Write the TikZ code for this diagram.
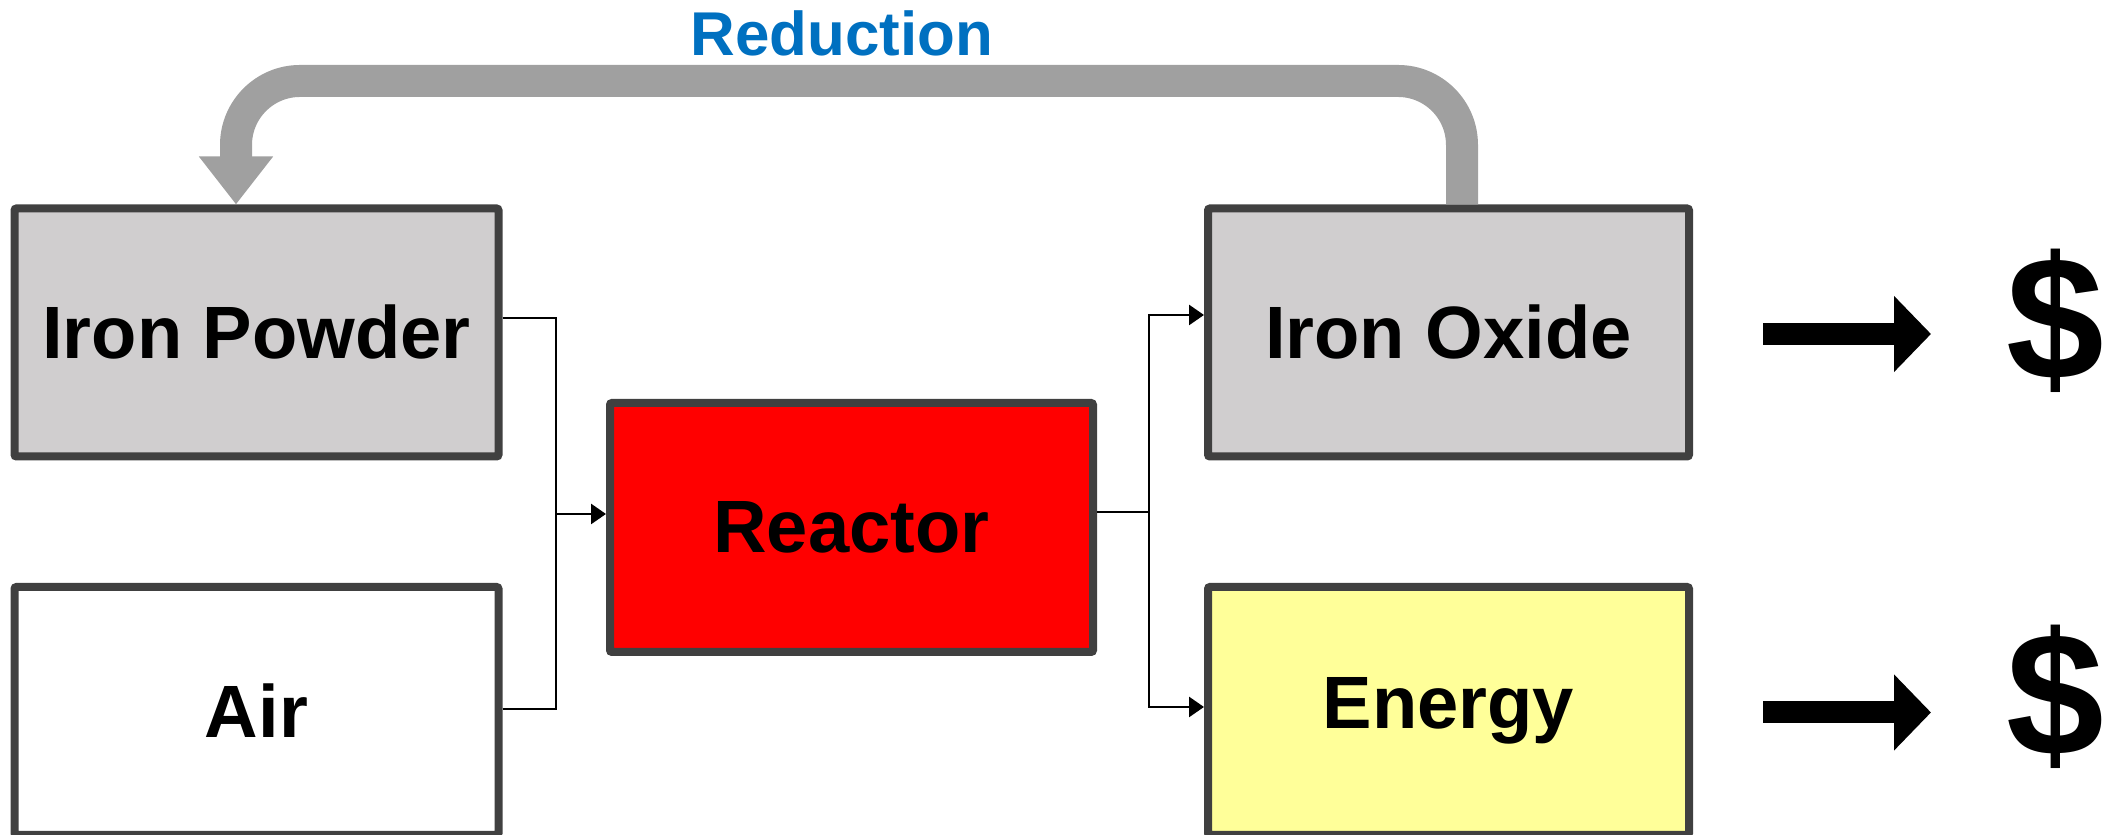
\documentclass[tikz,border=0pt]{standalone}
\usepackage{fontspec}
\setmainfont{Liberation Sans}
\usetikzlibrary{arrows.meta,positioning}
\definecolor{rxgray}{RGB}{208,206,207}
\definecolor{rxborder}{RGB}{64,64,64}
\definecolor{rxred}{RGB}{255,0,0}
\definecolor{rxyellow}{RGB}{255,255,153}
\definecolor{rxloop}{RGB}{160,160,160}
\definecolor{rxblue}{RGB}{0,112,192}

\begin{document}
\begin{tikzpicture}[
  stage/.style={draw=rxborder,line width=0.08cm,rounded corners=0.02cm,minimum width=4.84cm,minimum height=2.48cm,inner sep=0,font=\fontsize{21.1}{24}\selectfont\bfseries},
  feed/.style={line width=0.027cm},
  feedtip/.style={-{Triangle[length=0.15cm,width=0.2cm]}},
  loopback/.style={rxloop,line width=0.32cm,rounded corners=0.64cm,-{Triangle[length=0.48cm,width=0.71cm]}},
  payarrow/.style={line width=0.22cm,-{Triangle[length=0.37cm,width=0.74cm]}},
  dollar/.style={inner sep=0,anchor=base,font=\fontsize{50}{50}\selectfont\bfseries}]
  \useasboundingbox (0,0) rectangle (21.09,8.35);
  % process boxes
  \node[stage,fill=rxgray] (powder) at (2.565,5.025) {Iron Powder};
  \node[stage,fill=white] (air) at (2.565,1.24) {Air};
  \node[stage,fill=rxred,minimum width=4.83cm,minimum height=2.49cm] (reactor) at (8.515,3.075) {Reactor};
  \node[stage,fill=rxgray,minimum width=4.81cm] (oxide) at (14.485,5.025) {Iron Oxide};
  \node[stage,fill=rxyellow,minimum width=4.81cm] (energy) at (14.485,1.24) {Energy};
  % feed lines
  \coordinate (inbus) at (5.56,3.21);
  \coordinate (outbus) at (11.49,3.23);
  \foreach \n/\dy in {powder/0.145,air/0.02} {\draw[feed] ([yshift=\dy cm]\n.east) -| (inbus);}
  \draw[feed,feedtip] (inbus) -- (inbus -| reactor.west);
  \draw[feed] ([yshift=0.155cm]reactor.east) -- (outbus);
  \foreach \n/\dy in {oxide/0.175,energy/0.04} {\draw[feed,feedtip] (outbus) |- ([yshift=\dy cm]\n.west);}
  % reduction loop
  \coordinate (looptop) at (8.49,7.54);
  \draw[loopback] ([xshift=0.135cm]oxide.north) |- (looptop) -| ([xshift=-0.205cm]powder.north);
  \node[rxblue,anchor=base,inner sep=0,font=\fontsize{17.6}{20}\selectfont\bfseries] (reduction) at (8.42,7.79) {Reduction};
  % sales
  \node[dollar] (cash1) at (20.55,4.55) {\$};
  \node[dollar] (cash2) at (20.55,0.795) {\$};
  \foreach \n in {oxide,energy} {\draw[payarrow] ([xshift=0.7cm,yshift=-0.015cm]\n.east) -- ++(1.68,0);}
\end{tikzpicture}
\end{document}
